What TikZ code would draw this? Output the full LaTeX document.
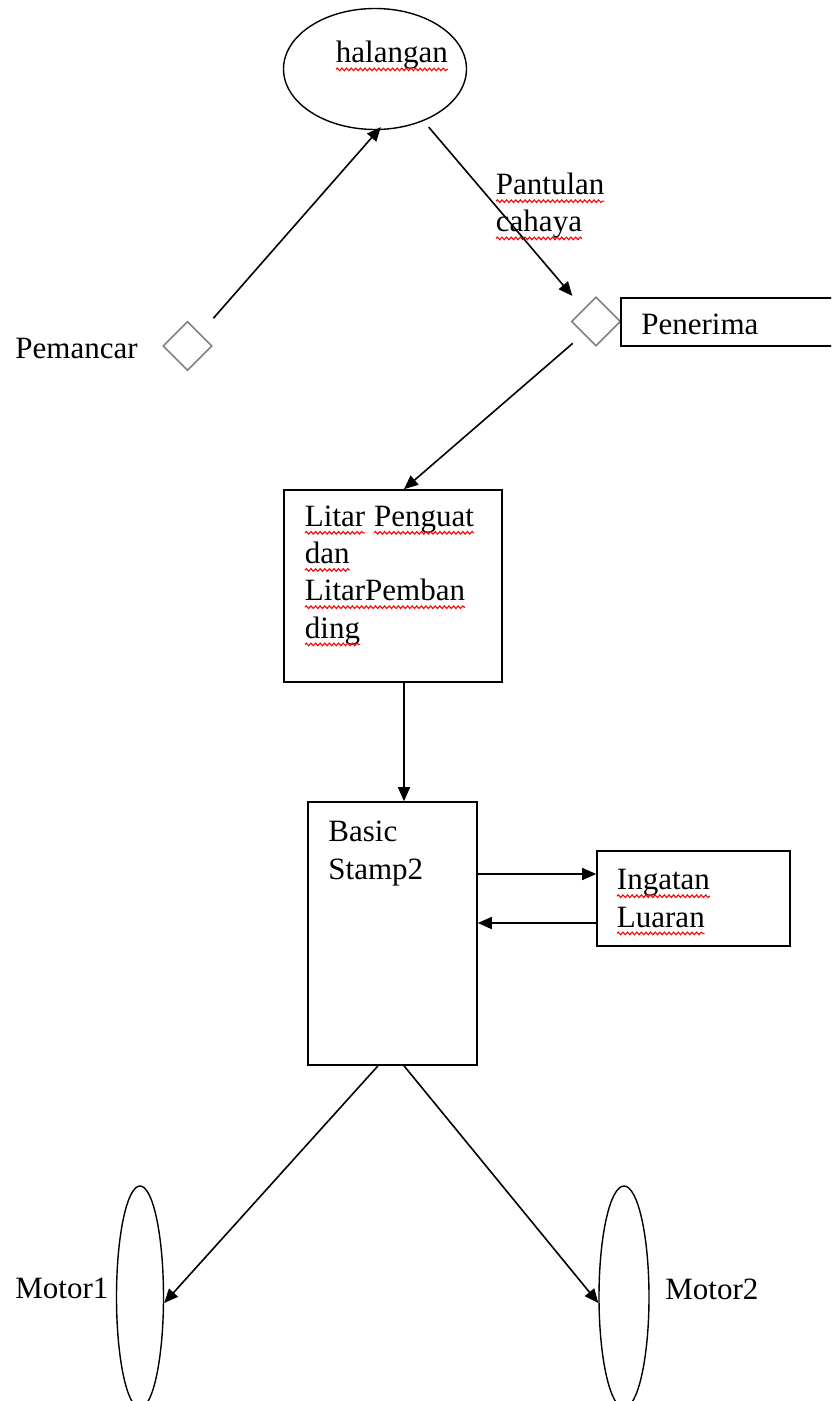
\documentclass[tikz,border=0pt]{standalone}
\usepackage{fontspec}
\setmainfont{Liberation Serif}
\usepackage{tikz}
\usetikzlibrary{shapes.geometric, arrows.meta, positioning, calc,
                 decorations.pathmorphing}

% red spell-check underline under a word
\newcommand{\spellmark}[1]{\tikz[baseline=(w.base)]{%
    \node[inner sep=0pt, outer sep=0pt, draw=none, anchor=base] (w) {#1};
    \draw[red, line width=0.55pt, decorate,
          decoration={snake, amplitude=0.65pt, segment length=2.3pt}]
        ([yshift=-3.2pt]w.base west) -- ([yshift=-3.2pt]w.base east);}}

\begin{document}
\begin{tikzpicture}[
    x=0.5pt, y=-0.5pt,
    >={Triangle[length=7pt, width=6pt]},
    % --- Shape styles ---
    blockbox/.style={draw=black, line width=0.8pt, rectangle, inner sep=0pt},
    oval/.style={draw=black, line width=0.7pt, ellipse, inner sep=0pt},
    sensor/.style={draw=black!50, line width=0.8pt, diamond, inner sep=0pt,
        minimum width=24.5pt, minimum height=24.5pt},
    % --- Text styles (anchored at the baseline of the last line) ---
    txt/.style={inner sep=0pt, align=left, anchor=base west,
        font=\fontsize{15.5}{18.6}\selectfont},
    % --- Arrow styles ---
    arr/.style={->, line width=0.8pt, color=black},
]
\useasboundingbox (0,0) rectangle (831,1401);
\clip (0,0) rectangle (831,1401);

% =============================================
%  Top: obstacle and sensors
% =============================================
\node[oval, minimum width=91.5pt, minimum height=60.5pt] (halangan) at (375,69) {};
\node[txt] (halangantxt) at (335,63) {\spellmark{halangan}};

\node[sensor] (pemancar) at (187.5,346) {};
\node[txt] (pemancartxt) at (15,358) {Pemancar};

\node[sensor] (penerima) at (596,321.5) {};
\node[blockbox, minimum width=109.5pt, minimum height=24pt] (penerimabox) at (730.5,322) {};
\node[txt] (penerimatxt) at (641,335) {Penerima};

\node[txt] (pantulan) at (495,232) {\spellmark{Pantulan}\\\spellmark{cahaya}};

% =============================================
%  Middle: amplifier and controller
% =============================================
\node[blockbox, minimum width=109pt, minimum height=96pt] (litar) at (393,586) {};
\node[txt] (litartxt) at (304,638)
    {\spellmark{Litar} \spellmark{Penguat}\\\spellmark{dan}\\\spellmark{LitarPemban}\\\spellmark{ding}};

\node[blockbox, minimum width=84.5pt, minimum height=131.5pt] (basic) at (392.5,933.5) {};
\node[txt] (basictxt) at (328,879) {Basic\\Stamp2};

\node[blockbox, minimum width=96.5pt, minimum height=47.5pt] (ingatan) at (693.5,898.5) {};
\node[txt] (ingatantxt) at (616,927) {\spellmark{Ingatan}\\\spellmark{Luaran}};

% =============================================
%  Bottom: motors
% =============================================
\node[oval, minimum width=23.5pt, minimum height=111pt] (motor1) at (140,1297) {};
\node[txt] (motor1txt) at (15,1298) {Motor1};

\node[oval, minimum width=25pt, minimum height=111pt] (motor2) at (624,1297) {};
\node[txt] (motor2txt) at (665,1299) {Motor2};

% =============================================
%  Connections
% =============================================
\draw[arr, shorten <=10pt, shorten >=-2pt] (pemancar.north east) -- (halangan.-87);
\draw[arr, shorten <=4pt, shorten >=8.5pt] (halangan.-47) -- (penerima.north west);
\draw[arr, shorten <=7pt] (penerima.south west) -- ([xshift=5.5pt]litar.north);
\draw[arr] ([xshift=5.5pt]litar.south) -- ([xshift=5.5pt]litar.south |- basic.north);

% to and from the external memory
\coordinate (ingin)  at ([yshift=12.25pt]ingatan.west);
\coordinate (ingout) at ([yshift=-12.25pt]ingatan.west);
\draw[arr] (basic.east |- ingin) -- (ingin);
\draw[arr] (ingout) -- (basic.east |- ingout);

% to the motors
\draw[arr] ([xshift=-7.25pt]basic.south) -- ([yshift=-3pt]motor1.east);
\draw[arr] ([xshift=5.75pt]basic.south) -- ([yshift=-3pt]motor2.west);

\end{tikzpicture}
\end{document}
